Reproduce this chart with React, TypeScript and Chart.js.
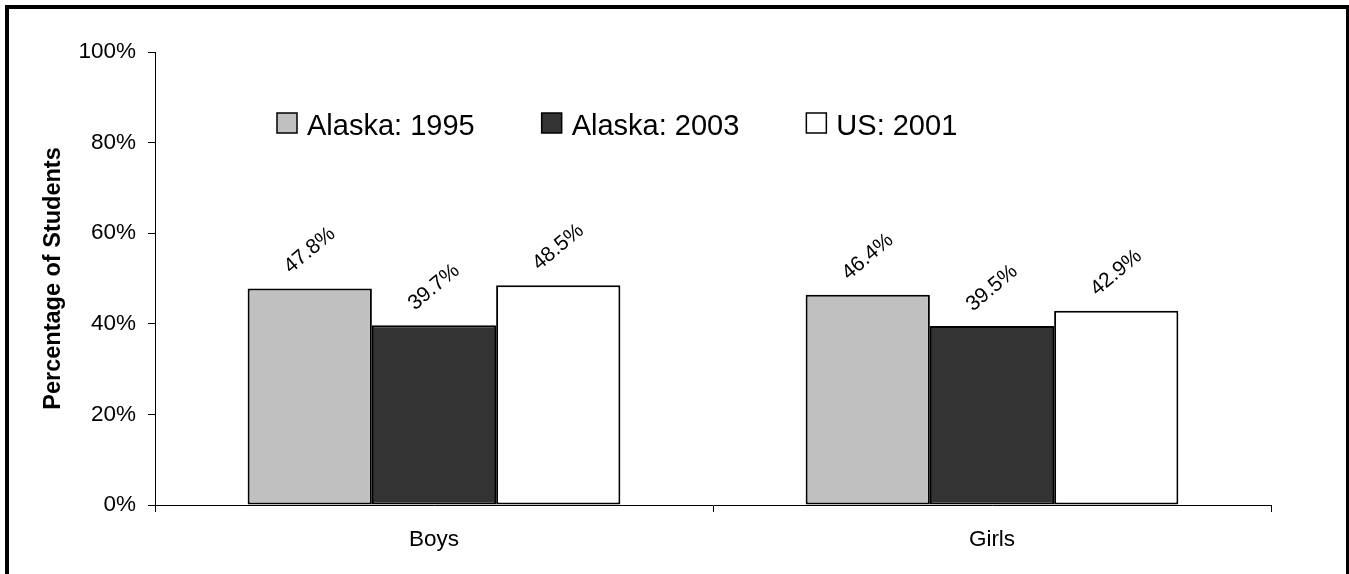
import React, { useEffect, useRef } from "react";
import { Chart, registerables } from "chart.js";

Chart.register(...registerables);

const categories = ["Boys", "Girls"];
const seriesNames = ["Alaska: 1995", "Alaska: 2003", "US: 2001"];
const alaska1995 = [47.8, 46.4];
const alaska2003 = [39.7, 39.5];
const us2001 = [48.5, 42.9];
const seriesColors = ["#C0C0C0", "#333333", "#FFFFFF"];
const yTicks = [0, 20, 40, 60, 80, 100];
const yTitle = "Percentage of Students";

const FONT = "'Liberation Sans', Arial, Helvetica, sans-serif";

const W = 1349;
const H = 574;

const labelPlugin = {
  id: "barLabels",
  afterDatasetsDraw(chart: any) {
    const ctx = chart.ctx;
    ctx.save();
    ctx.font = `21px ${FONT}`;
    ctx.fillStyle = "#000";
    ctx.textAlign = "center";
    ctx.textBaseline = "middle";
    chart.data.datasets.forEach((ds: any, di: number) => {
      const meta = chart.getDatasetMeta(di);
      meta.data.forEach((bar: any, i: number) => {
        const v = ds.data[i];
        ctx.save();
        ctx.translate(bar.x, bar.y - 38);
        ctx.rotate((-40 * Math.PI) / 180);
        ctx.fillText(v.toFixed(1) + "%", 0, 0);
        ctx.restore();
      });
    });
    ctx.restore();
  },
};

const legendPlugin = {
  id: "customLegend",
  afterDraw(chart: any) {
    const ctx = chart.ctx;
    ctx.save();
    ctx.font = `29px ${FONT}`;
    ctx.textBaseline = "alphabetic";
    ctx.textAlign = "left";
    let x = 277;
    const boxTop = 113;
    const box = 20;
    chart.data.datasets.forEach((ds: any) => {
      ctx.fillStyle = ds.backgroundColor;
      ctx.fillRect(x, boxTop, box, box);
      ctx.strokeStyle = "#000";
      ctx.lineWidth = 1.5;
      ctx.strokeRect(x, boxTop, box, box);
      ctx.fillStyle = "#000";
      ctx.fillText(ds.label, x + 30, boxTop + 22);
      const w = ctx.measureText(ds.label).width;
      x += 30 + w + 67;
    });
    ctx.restore();
  },
};

export default function App() {
  const ref = useRef<HTMLCanvasElement>(null);

  useEffect(() => {
    if (!ref.current) return;
    const data = [alaska1995, alaska2003, us2001];
    const chart = new Chart(ref.current, {
      type: "bar",
      data: {
        labels: categories,
        datasets: seriesNames.map((name, i) => ({
          label: name,
          data: data[i],
          backgroundColor: seriesColors[i],
          borderColor: "#000",
          borderWidth: 2,
          borderSkipped: false,
          categoryPercentage: 0.668,
          barPercentage: 1,
        })),
      },
      options: {
        responsive: false,
        animation: false,
        devicePixelRatio: 1,
        layout: { padding: { left: 0, top: 52, right: W - 1271, bottom: 0 } },
        plugins: {
          legend: { display: false },
          tooltip: { enabled: false },
        },
        scales: {
          x: {
            grid: {
              display: true,
              drawOnChartArea: false,
              drawTicks: true,
              tickLength: 7,
              color: "#000",
              lineWidth: 1,
              offset: true,
            },
            border: { display: true, color: "#000", width: 1 },
            ticks: {
              color: "#000",
              font: { family: FONT, size: 22.5 },
              padding: 14,
              maxRotation: 0,
            },
            afterFit(scale: any) {
              scale.height = H - 505;
            },
          },
          y: {
            min: 0,
            max: 100,
            afterBuildTicks(scale: any) {
              scale.ticks = yTicks.map((v) => ({ value: v }));
            },
            grid: {
              display: true,
              drawOnChartArea: false,
              drawTicks: true,
              tickLength: 7,
              color: "#000",
              lineWidth: 1,
            },
            border: { display: true, color: "#000", width: 1 },
            ticks: {
              color: "#000",
              font: { family: FONT, size: 22.5 },
              padding: 12,
              callback: (v: any) => v + "%",
            },
            title: {
              display: true,
              text: yTitle,
              color: "#000",
              font: { family: FONT, size: 23.5, weight: "bold" },
              padding: { top: 39, bottom: 0 },
            },
            afterFit(scale: any) {
              scale.width = 155;
            },
          },
        },
      },
      plugins: [labelPlugin, legendPlugin],
    });
    return () => chart.destroy();
  }, []);

  return (
    <>
      <canvas
        ref={ref}
        width={W}
        height={H}
        style={{ position: "fixed", left: 0, top: 0, width: W, height: H, background: "#fff" }}
      />
      <div
        style={{
          position: "fixed",
          left: 5,
          top: 5,
          width: 1345,
          height: 600,
          border: "4px solid #000",
          boxSizing: "border-box",
          pointerEvents: "none",
        }}
      />
    </>
  );
}
